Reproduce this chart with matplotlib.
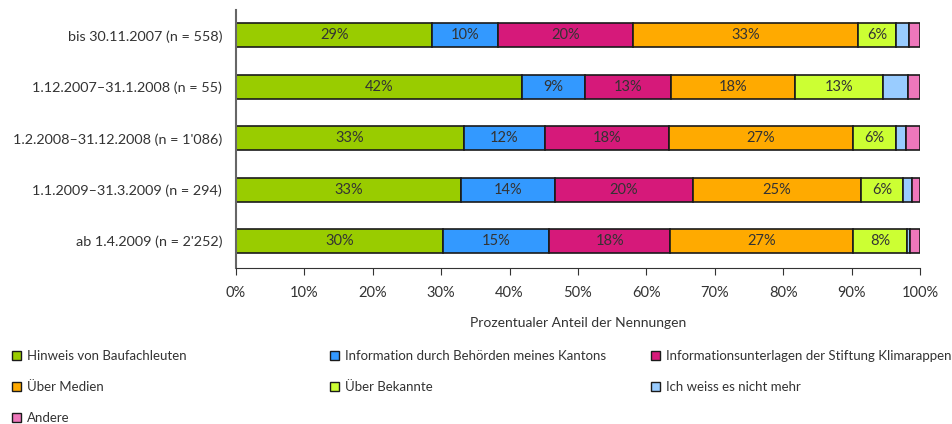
import matplotlib
matplotlib.use("Agg")
import matplotlib.pyplot as plt
import numpy as np
from matplotlib.patches import Patch

plt.rcParams['font.family'] = ['Lato', 'DejaVu Sans']

categories = ["bis 30.11.2007 (n = 558)",
              "1.12.2007–31.1.2008 (n = 55)",
              "1.2.2008–31.12.2008 (n = 1'086)",
              "1.1.2009–31.3.2009 (n = 294)",
              "ab 1.4.2009 (n = 2'252)"]

series_names = ["Hinweis von Baufachleuten",
                "Information durch Behörden meines Kantons",
                "Informationsunterlagen der Stiftung Klimarappen",
                "Über Medien",
                "Über Bekannte",
                "Ich weiss es nicht mehr",
                "Andere"]

hinweis   = [28.7, 41.8, 33.3, 32.9, 30.3]
behoerden = [9.6, 9.2, 11.9, 13.7, 15.5]
unterlagen = [19.7, 12.6, 18.1, 20.2, 17.7]
medien    = [32.9, 18.1, 26.9, 24.6, 26.7]
bekannte  = [5.6, 12.9, 6.3, 6.1, 7.9]
weiss_nicht = [1.9, 3.6, 1.5, 1.3, 0.4]
andere    = [1.6, 1.8, 2.0, 1.2, 1.5]

labels_shown = [
    ["29%", "10%", "20%", "33%", "6%", "", ""],
    ["42%", "9%", "13%", "18%", "13%", "", ""],
    ["33%", "12%", "18%", "27%", "6%", "", ""],
    ["33%", "14%", "20%", "25%", "6%", "", ""],
    ["30%", "15%", "18%", "27%", "8%", "", ""],
]

colors = ["#99cc00", "#3399ff", "#d6197a", "#ffaa00", "#ccff33", "#99ccff", "#ee77bb"]

series = [hinweis, behoerden, unterlagen, medien, bekannte, weiss_nicht, andere]

fig = plt.figure(figsize=(9.52, 4.24), dpi=100)
ax = fig.add_axes([236/952, 1-268/424, (920-236)/952, 258/424])

y = np.arange(len(categories))
left = np.zeros(len(categories))
for i, (vals, col) in enumerate(zip(series, colors)):
    vals = np.array(vals)
    ax.barh(y, vals, left=left, height=0.46, color=col, edgecolor="#1a1a1a", linewidth=1.2)
    for j in range(len(categories)):
        t = labels_shown[j][i]
        if t:
            ax.text(left[j] + vals[j]/2, y[j], t, ha="center", va="center",
                    fontsize=10.5, color="#333333")
    left += vals

ax.set_xlim(0, 100)
ax.set_ylim(4.52, -0.49)
ax.set_yticks(y)
ax.set_yticklabels(categories, fontsize=10.4, color="#333333")
ax.tick_params(axis="y", length=0, pad=10)
ax.set_xticks(np.arange(0, 101, 10))
ax.set_xticklabels([f"{v}%" for v in range(0, 101, 10)], fontsize=10.5, color="#333333")
ax.tick_params(axis="x", length=5, color="#333333", pad=8)
ax.set_xlabel("Prozentualer Anteil der Nennungen", fontsize=10, color="#333333", labelpad=12)
for s in ["top", "right"]:
    ax.spines[s].set_visible(False)
ax.spines["left"].set_color("#666666")
ax.spines["left"].set_linewidth(1.5)
ax.spines["bottom"].set_color("#333333")

handles = [Patch(facecolor=c, edgecolor="#1a1a1a", linewidth=1.0) for c in colors]
cols = [[0, 3, 6], [1, 4], [2, 5]]
xs = [12/952, 330/952, 651/952]
for idx, x0 in zip(cols, xs):
    fig.legend([handles[k] for k in idx], [series_names[k] for k in idx],
               loc="upper left", bbox_to_anchor=(x0, 1-350/424), frameon=False,
               fontsize=9.5, handlelength=0.7, handleheight=0.7, handletextpad=0.4,
               labelspacing=1.45, borderpad=0, borderaxespad=0, labelcolor="#333333")

fig.savefig("out.png", dpi=100)
